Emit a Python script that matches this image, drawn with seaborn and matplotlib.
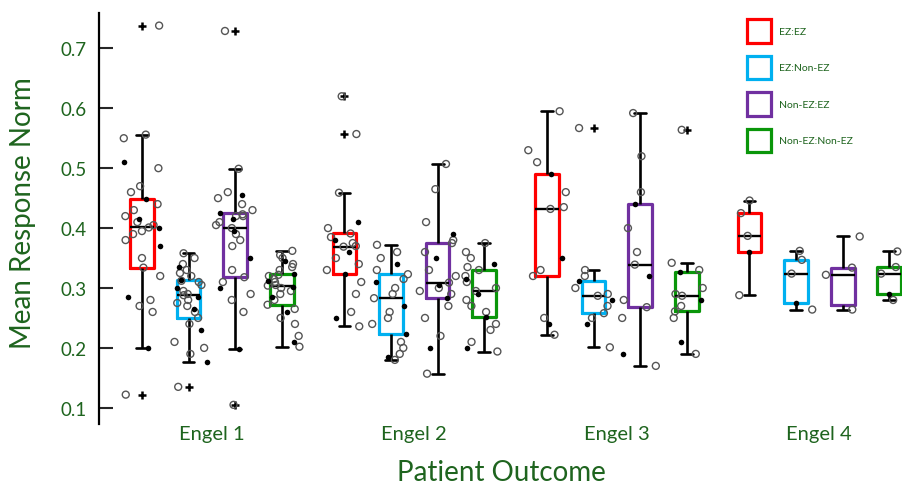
import numpy as np
import pandas as pd
import matplotlib
matplotlib.use("Agg")
import matplotlib.pyplot as plt
import seaborn as sns

# ---------------- data ----------------
engel_labels = ["Engel 1", "Engel 2", "Engel 3", "Engel 4"]
types = ["EZ:EZ", "EZ:Non-EZ", "Non-EZ:EZ", "Non-EZ:Non-EZ"]
type_colors = ["#FF0000", "#00B0F0", "#7030A0", "#0A960A"]

e1_ez_ez = [0.122, 0.200, 0.26, 0.27, 0.28, 0.285, 0.32, 0.334, 0.35, 0.37, 0.38, 0.39, 0.395, 0.40,
            0.401, 0.405, 0.41, 0.415, 0.42, 0.43, 0.44, 0.449, 0.46, 0.47, 0.50, 0.51, 0.55, 0.556, 0.738]
e1_ez_nonez = [0.135, 0.176, 0.19, 0.20, 0.21, 0.23, 0.24, 0.250, 0.26, 0.265, 0.27, 0.275, 0.28, 0.285,
               0.288, 0.29, 0.295, 0.30, 0.305, 0.31, 0.312, 0.314, 0.32, 0.325, 0.33, 0.335, 0.34, 0.35, 0.358]
e1_nonez_ez = [0.105, 0.198, 0.26, 0.28, 0.29, 0.30, 0.31, 0.318, 0.33, 0.35, 0.37, 0.38, 0.39, 0.395,
               0.400, 0.405, 0.41, 0.415, 0.42, 0.42, 0.423, 0.426, 0.43, 0.44, 0.45, 0.455, 0.46, 0.499, 0.729]
e1_nonez_nonez = [0.202, 0.21, 0.22, 0.24, 0.25, 0.26, 0.265, 0.272, 0.28, 0.285, 0.29, 0.295, 0.30, 0.302,
                  0.304, 0.305, 0.31, 0.312, 0.315, 0.32, 0.322, 0.324, 0.33, 0.335, 0.34, 0.345, 0.35, 0.355, 0.362]

e2_ez_ez = [0.236, 0.25, 0.26, 0.29, 0.31, 0.323, 0.33, 0.34, 0.35, 0.36, 0.369,
            0.37, 0.375, 0.38, 0.385, 0.391, 0.40, 0.41, 0.459, 0.557, 0.620]
e2_ez_nonez = [0.180, 0.185, 0.19, 0.20, 0.21, 0.223, 0.24, 0.25, 0.26, 0.27, 0.283,
               0.29, 0.30, 0.31, 0.315, 0.323, 0.33, 0.34, 0.35, 0.36, 0.372]
e2_nonez_ez = [0.157, 0.20, 0.22, 0.25, 0.27, 0.283, 0.29, 0.295, 0.30, 0.305, 0.309,
               0.32, 0.33, 0.35, 0.36, 0.375, 0.38, 0.39, 0.41, 0.465, 0.507]
e2_nonez_nonez = [0.194, 0.20, 0.21, 0.23, 0.24, 0.251, 0.26, 0.27, 0.28, 0.29, 0.295,
                  0.30, 0.31, 0.315, 0.32, 0.330, 0.335, 0.34, 0.35, 0.36, 0.375]

e3_ez_ez = [0.222, 0.24, 0.25, 0.320, 0.33, 0.35, 0.432, 0.435, 0.46, 0.490, 0.51, 0.53, 0.595]
e3_ez_nonez = [0.201, 0.24, 0.25, 0.258, 0.27, 0.28, 0.287, 0.29, 0.30, 0.312, 0.32, 0.330, 0.567]
e3_nonez_ez = [0.170, 0.19, 0.25, 0.268, 0.28, 0.32, 0.339, 0.36, 0.40, 0.440, 0.46, 0.52, 0.592]
e3_nonez_nonez = [0.190, 0.21, 0.25, 0.261, 0.27, 0.28, 0.287, 0.29, 0.30, 0.326, 0.33, 0.342, 0.564]

e4_ez_ez = [0.288, 0.360, 0.387, 0.425, 0.446]
e4_ez_nonez = [0.264, 0.275, 0.324, 0.347, 0.362]
e4_nonez_ez = [0.264, 0.272, 0.322, 0.334, 0.386]
e4_nonez_nonez = [0.280, 0.290, 0.324, 0.335, 0.361]

groups = [
    [e1_ez_ez, e1_ez_nonez, e1_nonez_ez, e1_nonez_nonez],
    [e2_ez_ez, e2_ez_nonez, e2_nonez_ez, e2_nonez_nonez],
    [e3_ez_ez, e3_ez_nonez, e3_nonez_ez, e3_nonez_nonez],
    [e4_ez_ez, e4_ez_nonez, e4_nonez_ez, e4_nonez_nonez],
]

# ---------------- layout ----------------
hue_step = 0.23
rows = []
for ei, eng in enumerate(engel_labels):
    for ti, t in enumerate(types):
        pos = round(ei + (ti - 1.5) * hue_step, 4)
        for k, v in enumerate(sorted(groups[ei][ti])):
            rows.append(dict(pos=pos, type=t, value=v, filled=(k % 4 == 1)))
df = pd.DataFrame(rows)

sns.set_style("white")
plt.rcParams["font.family"] = ["Lato", "DejaVu Sans"]
text_green = "#1E641E"

fig = plt.figure(figsize=(9.03, 4.89), dpi=100)
ax = fig.add_axes([99 / 903, 64 / 489, 804 / 903, 411 / 489])

sns.boxplot(data=df, x="pos", y="value", hue="type", hue_order=types,
            palette=type_colors, native_scale=True, dodge=False, fill=False,
            width=0.51, linewidth=2.3, whis=1.5, ax=ax,
            whiskerprops=dict(color="black", linewidth=1.9),
            capprops=dict(color="black", linewidth=1.9),
            medianprops=dict(color="black", linewidth=1.7),
            flierprops=dict(marker="+", markeredgecolor="black", markerfacecolor="black",
                            markersize=6, markeredgewidth=1.8))
leg = ax.get_legend()
handles = list(leg.legend_handles)
leg.remove()

np.random.seed(7)
sns.stripplot(data=df[~df["filled"]], x="pos", y="value", native_scale=True,
              jitter=0.41, color="#555555", facecolor="none", edgecolor="#555555",
              linewidth=1.0, size=5, legend=False, ax=ax, zorder=4)
sns.stripplot(data=df[df["filled"]], x="pos", y="value", native_scale=True,
              jitter=0.41, color="black", linewidth=0, size=4, legend=False, ax=ax, zorder=4)
for coll in ax.collections[-2:-1]:
    coll.set_facecolor("none")

ax.set_xlim(-0.557, 3.413)
ax.set_ylim(0.073, 0.759)
ax.set_xticks(range(len(engel_labels)))
ax.set_xticklabels(engel_labels)
ax.set_yticks([0.1, 0.2, 0.3, 0.4, 0.5, 0.6, 0.7])
ax.set_yticklabels(["0.1", "0.2", "0.3", "0.4", "0.5", "0.6", "0.7"])
ax.tick_params(axis="x", length=0, pad=1, labelsize=14.5, labelcolor=text_green)
ax.tick_params(axis="y", direction="in", length=10, width=1.5, pad=9,
               labelsize=13.5, labelcolor=text_green, left=True)

for s in ["top", "right", "bottom"]:
    ax.spines[s].set_visible(False)
ax.spines["left"].set_linewidth(1.6)
ax.spines["left"].set_color("black")

ax.set_xlabel("Patient Outcome", fontsize=20, color=text_green)
ax.set_ylabel("Mean Response Norm", fontsize=20, color=text_green)
ax.xaxis.set_label_coords(0.501, -0.085)
ax.yaxis.set_label_coords(-0.078, 0.515)

ax.legend(handles, types, loc="upper left", bbox_to_anchor=(747 / 903, 1 - 20 / 489),
          bbox_transform=fig.transFigure, frameon=False, fontsize=7.5,
          handlelength=2.3, handleheight=3.1, labelspacing=1.25, handletextpad=0.75,
          borderpad=0, borderaxespad=0, labelcolor=text_green)

fig.savefig("out.png", dpi=100)
